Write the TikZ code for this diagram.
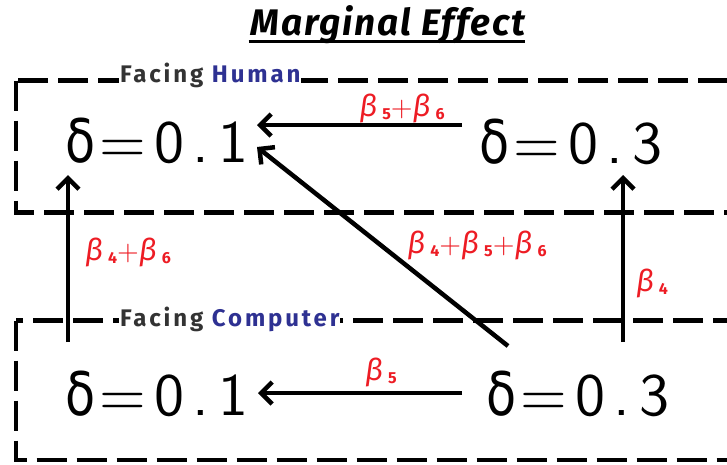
\documentclass[tikz,border=0pt]{standalone}
\usepackage{fontspec}
\usetikzlibrary{arrows.meta,calc}
\newfontfamily\titlefont[LetterSpace=5]{Fira Sans}
\newfontfamily\facefont[LetterSpace=12]{Fira Sans}
\newfontfamily\bigsans{lmsans10-regular.otf}
\newfontfamily\greekfont{DejaVu Sans}
\newfontfamily\betafont{Fira Sans}
\definecolor{lblred}{RGB}{237,28,36}
\definecolor{humblue}{RGB}{46,49,146}
\definecolor{facegray}{RGB}{51,51,51}
\newcommand\bigval[1]{\scalebox{0.82}[1]{\greekfont δ}\hspace{4pt}=\hspace{8pt}0\hspace{8pt}.\hspace{9pt}#1}
\newcommand\bsub[1]{{\itshape β}\hspace{5pt}\raisebox{-3pt}{\fontsize{16}{16}\selectfont\bfseries #1}}
\newcommand\plusop{{\bigsans\fontsize{28}{28}\selectfont +}}
\tikzset{
  boxline/.style={line width=4.5pt, dash pattern=on 30pt off 10pt},
  arr/.style={line width=4.5pt, -{Straight Barb[length=11pt,width=22pt]}},
  bigtxt/.style={font=\bigsans\fontsize{60}{60}\selectfont, inner sep=0pt, anchor=base},
  betalbl/.style={font=\betafont\fontsize{30}{30}\selectfont, text=lblred, inner sep=0pt},
  facelbl/.style={font=\facefont\fontsize{24}{24}\selectfont\bfseries, text=facegray, fill=white, inner sep=1pt, anchor=base west},
}
\begin{document}
\begin{tikzpicture}[x=1pt,y=-1pt]
\useasboundingbox (0,0) rectangle (727,464);
\clip (0,0) rectangle (727,464);
% title
\node[font=\titlefont\fontsize{37}{40}\selectfont\bfseries\itshape, inner sep=0pt, anchor=base] (title) at (388,35) {Marginal Effect};
\draw[line width=3pt] ($(title.base west)+(-2,6.5)$) -- ($(title.base east)+(0,6.5)$);
% boxes
\draw[boxline] (16,80.5) rectangle (780,212.5);
\draw[boxline] (16,320.5) rectangle (780,460);
\node[facelbl] (fh) at (119,82) {Facing \textcolor{humblue}{Human}};
\node[facelbl] (fc) at (119,326) {Facing \textcolor{humblue}{Computer}};
% values
\node[bigtxt] (ul) at (157,162) {\bigval{1}};
\node[bigtxt] (ur) at (571,163) {\bigval{3}};
\node[bigtxt] (ll) at (157,415) {\bigval{1}};
\node[bigtxt] (lr) at (578,415) {\bigval{3}};
% arrows
\draw[arr] ($(ur.base)+(-109,-38)$) -- ($(ul.base)+(100,-37)$);
\draw[arr] ($(lr.base)+(-70,-69)$) -- ($(ul.base)+(100,-15)$);
\draw[arr] ($(ll.base)+(-89,-73)$) -- ($(ul.base)+(-89,13)$);
\draw[arr] ($(lr.base)+(45,-73)$) -- ($(ur.base)+(52,12)$);
\draw[arr] ($(lr.base)+(-116,-22)$) -- ($(ll.base)+(101,-22)$);
% labels
\node[betalbl] (l1) at (402,108) {\bsub{5}\plusop\bsub{6}};
\node[betalbl] (l2) at (477,245) {\bsub{4}\plusop\bsub{5}\plusop\bsub{6}};
\node[betalbl] (l3) at (128,252) {\bsub{4}\plusop\bsub{6}};
\node[betalbl] (l4) at (652,283) {\bsub{4}};
\node[betalbl] (l5) at (381,372) {\bsub{5}};
\end{tikzpicture}
\end{document}
